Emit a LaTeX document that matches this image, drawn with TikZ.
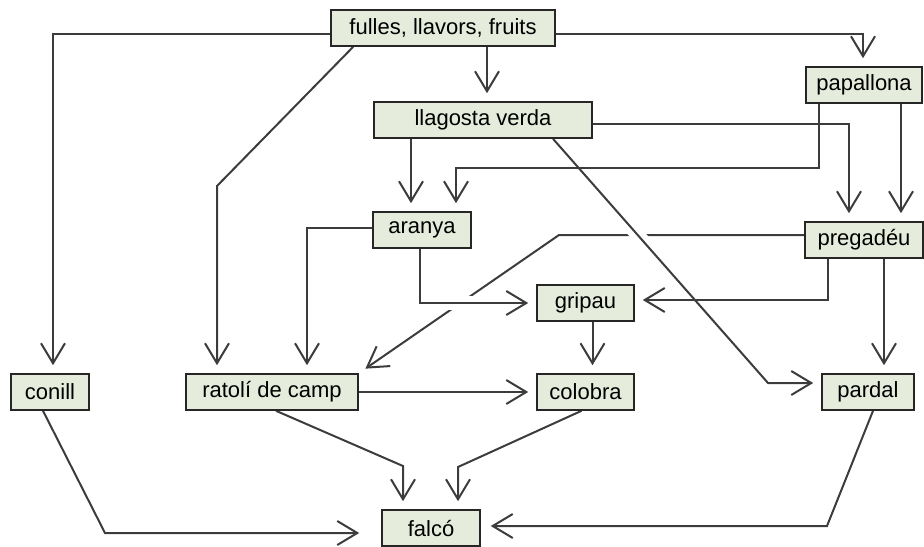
\documentclass[tikz,border=0pt]{standalone}
\usepackage{fontspec}
\setmainfont{Liberation Sans}
\usetikzlibrary{arrows.meta,backgrounds}
\definecolor{boxfill}{HTML}{E5ECDC}
\definecolor{linkgray}{HTML}{3C3C3C}

\begin{document}
\begin{tikzpicture}[x=0.5pt,y=-0.5pt]
\tikzset{every node/.style={font=\fontsize{11}{13}\selectfont}}
\tikzset{box/.style={draw=black!85, line width=0.8pt, fill=boxfill, minimum height=18pt, inner sep=0pt}}
\tikzset{link/.style={draw=linkgray, line width=1pt, -{Straight Barb[length=10pt,width=12pt]}, shorten >=4pt}}
\tikzset{jump/.style={preaction={draw=white, line width=7pt, -}}}

\useasboundingbox (0,0) rectangle (924,546);

% Nodes for plants and insects
\node[box, minimum width=112pt] at (443, 28) (fulles) {fulles, llavors, fruits};
\node[box, minimum width=109pt] at (483, 120) (llagosta) {llagosta verda};
\node[box, minimum width=58pt] at (864, 85) (papallona) {papallona};
\node[box, minimum width=49pt] at (422, 230) (aranya) {aranya};
\node[box, minimum width=59pt] at (864, 240) (pregadeu) {pregadéu};

% Nodes for animals
\node[box, minimum width=48.5pt] at (585.5, 303) (gripau) {gripau};
\node[box, minimum width=39pt] at (50, 392) (conill) {conill};
\node[box, minimum width=86pt] at (272, 392) (ratoli) {ratolí de camp};
\node[box, minimum width=48.5pt] at (585.5, 392) (colobra) {colobra};
\node[box, minimum width=46pt] at (868, 392) (pardal) {pardal};
\node[box, minimum width=49pt] at (431, 528) (falco) {falcó};

\begin{scope}[on background layer]
% Lines from pregadeu (under the others)
\draw[link] ([yshift=2.5pt]pregadeu.west) -- (559,235) -- (ratoli.north east);

% Lines that jump over it
\draw[link, jump] ([xshift=35pt]llagosta.south) -- (768,383) -- ([yshift=4.5pt]pardal.west);
\draw[link, jump] ([xshift=-1pt]aranya.south) |- (gripau.west);

% Lines from fulles
\draw[link] ([yshift=-3pt]fulles.west) -| ([xshift=1.5pt]conill.north);
\draw[link] ([xshift=11.5pt]fulles.south west) -- (217,186) -- ([xshift=-27.5pt]ratoli.north);
\draw[link] ([xshift=2pt]llagosta.north |- fulles.south) -- ([xshift=2pt]llagosta.north);
\draw[link] ([yshift=-3pt]fulles.east) -| ([xshift=-0.5pt]papallona.north);

% Lines from llagosta and papallona
\draw[link] ([xshift=-5.5pt]aranya.north |- llagosta.south) -- ([xshift=-5.5pt]aranya.north);
\draw[link] ([xshift=-22.5pt]papallona.south) -- (819,168) -| ([xshift=17pt]aranya.north);
\draw[link] ([yshift=-2pt]llagosta.east) -| ([xshift=-7.5pt]pregadeu.north);
\draw[link] ([xshift=18.5pt]papallona.south) -- ([xshift=18.5pt]pregadeu.north);

% Lines from aranya and pregadeu
\draw[link] ([yshift=1pt]aranya.west) -| ([xshift=17.5pt]ratoli.north);
\draw[link] ([xshift=-18pt]pregadeu.south) |- ([yshift=1.5pt]gripau.east);
\draw[link] ([xshift=8pt]pardal.north |- pregadeu.south) -- ([xshift=8pt]pardal.north);

% Lines to colobra
\draw[link] ([xshift=3.5pt]gripau.south) -- ([xshift=3.5pt]colobra.north);
\draw[link] (ratoli.east) -- (colobra.west);

% Lines to falco
\draw[link] ([xshift=2pt]ratoli.south) -- (403,466) -- ([xshift=-14pt]falco.north);
\draw[link] ([xshift=-2pt]colobra.south) -- (458,467) -- ([xshift=13.5pt]falco.north);
\draw[link, shorten >=11pt] ([xshift=-3.5pt]conill.south) -- (105,533) -- ([yshift=-2.5pt]falco.west);
\draw[link, shorten >=5pt] ([xshift=2.5pt]pardal.south) -- (827,526) -- ([yshift=1pt]falco.east);
\end{scope}
\end{tikzpicture}
\end{document}
